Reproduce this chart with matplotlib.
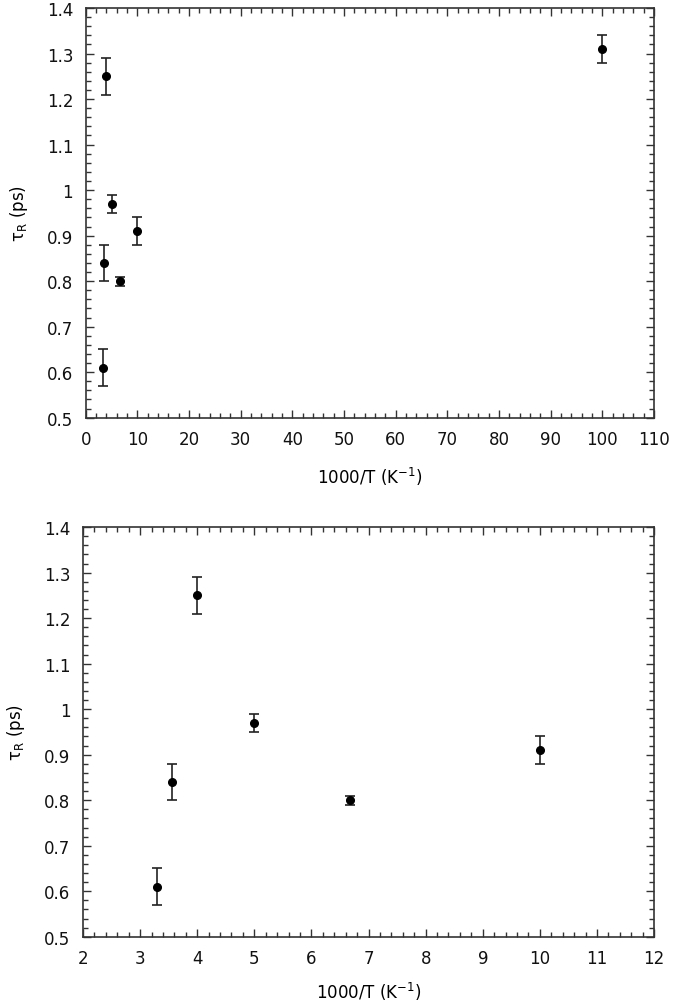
import matplotlib
matplotlib.use("Agg")
import matplotlib.pyplot as plt
from matplotlib.ticker import MultipleLocator, FuncFormatter

inv_T = [3.3, 3.55, 4.0, 5.0, 6.67, 10.0, 100.0]
tau_R = [0.61, 0.84, 1.25, 0.97, 0.80, 0.91, 1.31]
tau_err = [0.04, 0.04, 0.04, 0.02, 0.01, 0.03, 0.03]

plt.rcParams['font.family'] = ['DejaVu Sans']
plt.rcParams['font.size'] = 12

fig = plt.figure(figsize=(6.75, 10.04), dpi=100)
ax1 = fig.add_axes([0.127, 0.583, 0.842, 0.408])
ax2 = fig.add_axes([0.123, 0.066, 0.846, 0.408])

def fmt(v, pos):
    s = f"{v:.1f}"
    if s.endswith(".0"):
        s = s[:-2]
    return s

for ax, xlim, xmaj, xmin, xpad in [(ax1, (0, 110), 10, 2, 12), (ax2, (2, 12), 1, 0.2, 9)]:
    ax.errorbar(inv_T, tau_R, yerr=tau_err, fmt='o', color='black', ecolor='#222222',
                markersize=5.5, capsize=3.5, elinewidth=1.2, capthick=1.2)
    ax.set_xlim(*xlim)
    ax.set_ylim(0.5, 1.4)
    ax.xaxis.set_major_locator(MultipleLocator(xmaj))
    ax.xaxis.set_minor_locator(MultipleLocator(xmin))
    ax.yaxis.set_major_locator(MultipleLocator(0.1))
    ax.yaxis.set_minor_locator(MultipleLocator(0.02))
    ax.yaxis.set_major_formatter(FuncFormatter(fmt))
    ax.tick_params(which='both', direction='in', top=True, right=True, width=1.0,
                   colors='#333333', labelcolor='#111111')
    ax.tick_params(which='major', length=6, pad=9)
    ax.tick_params(which='minor', length=3.5)
    for sp in ax.spines.values():
        sp.set_color('#333333')
        sp.set_linewidth(1.2)
    ax.set_xlabel(r'1000/T (K$^{-1}$)', labelpad=xpad)
    ax.set_ylabel(r'$\mathregular{\tau_R}$ (ps)', labelpad=12)

fig.savefig('out.png', dpi=100)
